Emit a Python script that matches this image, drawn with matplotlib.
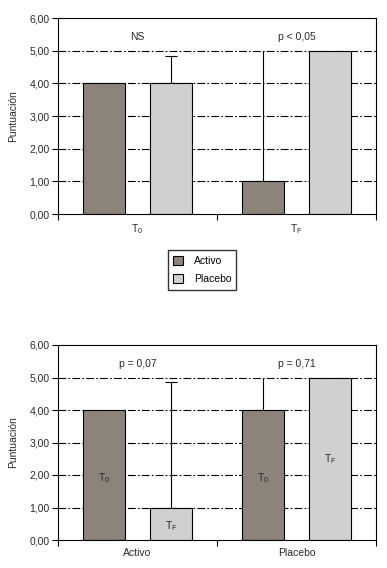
import numpy as np
import matplotlib
matplotlib.use("Agg")
import matplotlib.pyplot as plt
from matplotlib.patches import Patch

plt.rcParams['font.family'] = ['Liberation Sans', 'DejaVu Sans']
plt.rcParams['mathtext.fontset'] = 'custom'
plt.rcParams['mathtext.rm'] = 'Liberation Sans'
plt.rcParams['mathtext.it'] = 'Liberation Sans'

# top chart: groups by time, bars Activo / Placebo
top_groups = [r'$\mathregular{T_0}$', r'$\mathregular{T_F}$']
top_activo = [4.0, 1.0]
top_placebo = [4.0, 5.0]
top_activo_err = [0.0, 4.0]
top_placebo_err = [0.85, 0.0]
top_pvals = ['NS', 'p < 0,05']

# bottom chart: groups by treatment, bars T0 / TF
bot_groups = ['Activo', 'Placebo']
bot_t0 = [4.0, 4.0]
bot_tf = [1.0, 5.0]
bot_t0_err = [0.0, 1.0]
bot_tf_err = [3.85, 0.0]
bot_pvals = ['p = 0,07', 'p = 0,71']
bot_t0_label_y = [1.9, 1.9]
bot_tf_label_y = [0.42, 2.5]

c_activo = '#8c837a'
c_placebo = '#d0d0d0'
txt = '#2a2a2a'
fs = 7.5

fig = plt.figure(figsize=(3.87, 5.68), dpi=100)
W, H = 387, 568
ax1 = fig.add_axes([58 / W, 1 - 214 / H, 318 / W, 196 / H])
ax2 = fig.add_axes([58 / W, 1 - 540 / H, 318 / W, 195 / H])

x = np.array([0.5, 1.5])
off = 0.2125
bw = 0.265


def style(ax, labels):
    ax.set_xlim(0, 2)
    ax.set_ylim(0, 6)
    ax.set_yticks(np.arange(0, 7, 1))
    ax.set_yticklabels([f'{v:.2f}'.replace('.', ',') for v in range(7)], fontsize=fs, color=txt)
    ax.set_xticks([0, 1, 2])
    ax.set_xticklabels([])
    ax.set_xticks(x, minor=True)
    ax.set_xticklabels(labels, minor=True, fontsize=fs, color=txt)
    ax.tick_params(axis='x', which='minor', length=0, pad=6)
    ax.tick_params(axis='x', which='major', length=4, width=0.8)
    ax.tick_params(axis='y', length=4, width=0.8, pad=2)
    for v in range(1, 6):
        ax.axhline(v, color='black', lw=0.8, ls=(0, (7, 2, 1.5, 2)), zorder=0)
    for s in ax.spines.values():
        s.set_linewidth(0.8)
    ax.set_ylabel('Puntuación', fontsize=fs, color=txt, labelpad=8)


def err(ax, xp, y, e):
    # errors that end on the 5,00 grid line show no separate cap
    cap = 0 if abs(y + e - 5.0) < 1e-6 else 4
    ax.errorbar(xp, y, yerr=[[0], [e]], fmt='none', zorder=1, ecolor='black',
                elinewidth=0.8, capsize=cap, capthick=0.8)


# top
ax1.bar(x - off, top_activo, bw, color=c_activo, edgecolor='black', lw=0.8, zorder=2)
ax1.bar(x + off, top_placebo, bw, color=c_placebo, edgecolor='black', lw=0.8, zorder=2)
for i in range(2):
    if top_activo_err[i] > 0:
        err(ax1, x[i] - off, top_activo[i], top_activo_err[i])
    if top_placebo_err[i] > 0:
        err(ax1, x[i] + off, top_placebo[i], top_placebo_err[i])
    ax1.text(x[i], 5.42, top_pvals[i], ha='center', va='center', fontsize=fs, color=txt)
style(ax1, top_groups)

fig.legend(handles=[Patch(facecolor=c_activo, edgecolor='black', lw=0.8, label='Activo'),
                    Patch(facecolor=c_placebo, edgecolor='black', lw=0.8, label='Placebo')],
           loc='center', bbox_to_anchor=(202 / W, 1 - 270 / H), fontsize=fs, frameon=True,
           fancybox=False, edgecolor='black', handlelength=1.0, handleheight=1.0,
           borderpad=0.5, labelspacing=0.8, handletextpad=1.0)

# bottom
ax2.bar(x - off, bot_t0, bw, color=c_activo, edgecolor='black', lw=0.8, zorder=2)
ax2.bar(x + off, bot_tf, bw, color=c_placebo, edgecolor='black', lw=0.8, zorder=2)
for i in range(2):
    if bot_t0_err[i] > 0:
        err(ax2, x[i] - off, bot_t0[i], bot_t0_err[i])
    if bot_tf_err[i] > 0:
        err(ax2, x[i] + off, bot_tf[i], bot_tf_err[i])
    ax2.text(x[i], 5.42, bot_pvals[i], ha='center', va='center', fontsize=fs, color=txt)
    ax2.text(x[i] - off, bot_t0_label_y[i], r'$\mathregular{T_0}$', ha='center', va='center',
             fontsize=fs, color=txt, zorder=3)
    ax2.text(x[i] + off, bot_tf_label_y[i], r'$\mathregular{T_F}$', ha='center', va='center',
             fontsize=fs, color=txt, zorder=3)
style(ax2, bot_groups)

fig.savefig('out.png', dpi=100)
